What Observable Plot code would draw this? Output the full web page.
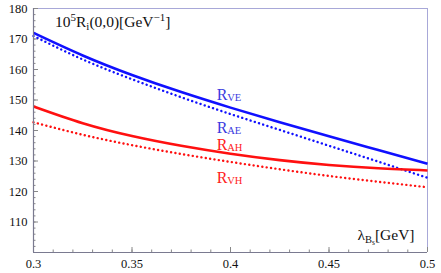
<!DOCTYPE html>
<html>
<head>
<meta charset="utf-8">
<script src="https://cdn.jsdelivr.net/npm/d3@7"></script>
<script src="https://cdn.jsdelivr.net/npm/@observablehq/plot@0.6"></script>
<style>
  html, body { margin: 0; padding: 0; background: #fff; }
</style>
</head>
<body>
<div id="chart"></div>
<script>
// ---- data ----
const lambda = [0.300, 0.325, 0.350, 0.375, 0.400, 0.425, 0.450, 0.475, 0.500];
const RVE = [172.0, 164.6, 158.2, 152.6, 147.5, 142.7, 138.1, 133.6, 129.1];
const RAE = [171.0, 163.3, 156.8, 150.9, 145.4, 140.2, 135.0, 129.8, 124.5];
const RAH = [147.9, 142.4, 138.2, 135.0, 132.4, 130.3, 128.7, 127.6, 126.9];
const RVH = [142.7, 138.6, 135.2, 132.3, 129.7, 127.3, 125.1, 123.2, 121.4];

const seriesNames = ["RVE", "RAE", "RAH", "RVH"];
const seriesValues = [RVE, RAE, RAH, RVH];
const seriesColors = ["#1010ff", "#1010ff", "#ff1010", "#ff1010"];
const seriesDashed = [false, true, false, true];

const xTicks = [0.3, 0.35, 0.4, 0.45, 0.5];
const xMinor = d3.range(30, 51).map(d => d / 100);
const yTicks = [110, 120, 130, 140, 150, 160, 170, 180];
const yMinor = d3.range(100, 181, 2);

// curve labels: main letter + subscript, anchored in data space
const labelX = [0.393, 0.393, 0.393, 0.393];
const labelY = [151.8, 141.0, 135.4, 124.6];
const labelSub = ["VE", "AE", "AH", "VH"];
const labelColors = ["#3a3ae0", "#3a3ae0", "#ff2020", "#ff2020"];

// ---- build table ----
const rows = [];
seriesNames.forEach((name, i) => {
  lambda.forEach((x, j) => rows.push({series: name, x, y: seriesValues[i][j]}));
});
const labels = labelSub.map((s, i) => ({x: labelX[i], y: labelY[i], sub: s, color: labelColors[i]}));

const serif = "Liberation Serif";

const lineMarks = seriesNames.map((name, i) =>
  Plot.line(rows.filter(r => r.series === name), {
    x: "x", y: "y",
    stroke: seriesColors[i],
    strokeWidth: seriesDashed[i] ? 2.4 : 2.6,
    strokeDasharray: seriesDashed[i] ? "0.1,4.3" : null,
    strokeLinecap: seriesDashed[i] ? "round" : "butt",
    curve: "natural"
  })
);

const chart = Plot.plot({
  width: 441,
  height: 273,
  marginLeft: 33,
  marginRight: 14,
  marginTop: 8,
  marginBottom: 21,
  style: {background: "#fff"},
  x: {domain: [0.3, 0.5]},
  y: {domain: [100, 180]},
  marks: [
    // frame
    Plot.ruleY([180], {stroke: "#a8a8d8", strokeWidth: 1}),
    Plot.ruleX([0.5], {stroke: "#a8a8d8", strokeWidth: 1}),
    // inward ticks
    Plot.axisY({ticks: yMinor, tickSize: 2.5, dx: 2.5, text: null, label: null, stroke: "#888"}),
    Plot.axisY({ticks: yTicks, tickSize: 5, dx: 5, text: null, label: null, stroke: "#888"}),
    Plot.axisX({ticks: xMinor, tickSize: 2.5, dy: -2.5, text: null, label: null, stroke: "#888"}),
    Plot.axisX({ticks: xTicks, tickSize: 5, dy: -5, text: null, label: null, stroke: "#888"}),
    // tick labels
    Plot.axisY({ticks: yTicks, tickSize: 0, tickPadding: 6, label: null, fontSize: 12.5, fontFamily: serif, fill: "#111"}),
    Plot.axisX({ticks: xTicks, tickSize: 0, tickPadding: 7, label: null, fontSize: 12.5, fontFamily: serif, fill: "#111", tickFormat: d => String(d)}),
    // curves
    ...lineMarks,
    // axis lines
    Plot.ruleX([0.3], {stroke: "#7a7a90", strokeWidth: 1.2}),
    Plot.ruleY([100], {stroke: "#7a7a90", strokeWidth: 1.2}),
    // curve labels
    Plot.text(labels, {x: "x", y: "y", text: () => "R", fill: "color", fontSize: 16, fontFamily: serif, textAnchor: "start", lineAnchor: "middle"}),
    Plot.text(labels, {x: "x", y: "y", text: "sub", fill: "color", fontSize: 10.5, fontFamily: serif, textAnchor: "start", lineAnchor: "middle", dx: 10.5, dy: 3}),
    // axis titles (rich text filled in below)
    Plot.text(["10^5R_i(0,0)[GeV^-1]"], {frameAnchor: "top-left", text: d => d, fontSize: 15.5, fontFamily: serif, textAnchor: "start", lineAnchor: "bottom", dx: 21.5, dy: 18.5, fill: "#111"}),
    Plot.text(["λ_B_s[GeV]"], {frameAnchor: "bottom-right", text: d => d, fontSize: 15.5, fontFamily: serif, textAnchor: "end", lineAnchor: "bottom", dx: -13, dy: -13, fill: "#111"})
  ]
});

// rich-text formatting for titles with super/subscripts
function rich(textEl, parts) {
  const sel = d3.select(textEl);
  sel.text(null);
  let cur = 0;
  parts.forEach(p => {
    const off = p.off || 0;
    sel.append("tspan")
      .attr("dy", off - cur)
      .attr("font-size", p.size || null)
      .text(p.t);
    cur = off;
  });
}
d3.select(chart).selectAll("text").each(function() {
  const t = this.textContent;
  if (t === "10^5R_i(0,0)[GeV^-1]") {
    rich(this, [
      {t: "10"}, {t: "5", off: -6.5, size: 11}, {t: "R", off: 0},
      {t: "i", off: 3, size: 11}, {t: "(0,0)[GeV", off: 0},
      {t: "−1", off: -6.5, size: 11}, {t: "]", off: 0}
    ]);
  } else if (t === "λ_B_s[GeV]") {
    rich(this, [
      {t: "λ"}, {t: "B", off: 3, size: 10.5}, {t: "s", off: 5.5, size: 7.5},
      {t: "[GeV]", off: 0}
    ]);
  }
});

document.getElementById("chart").appendChild(chart);
</script>
</body>
</html>
